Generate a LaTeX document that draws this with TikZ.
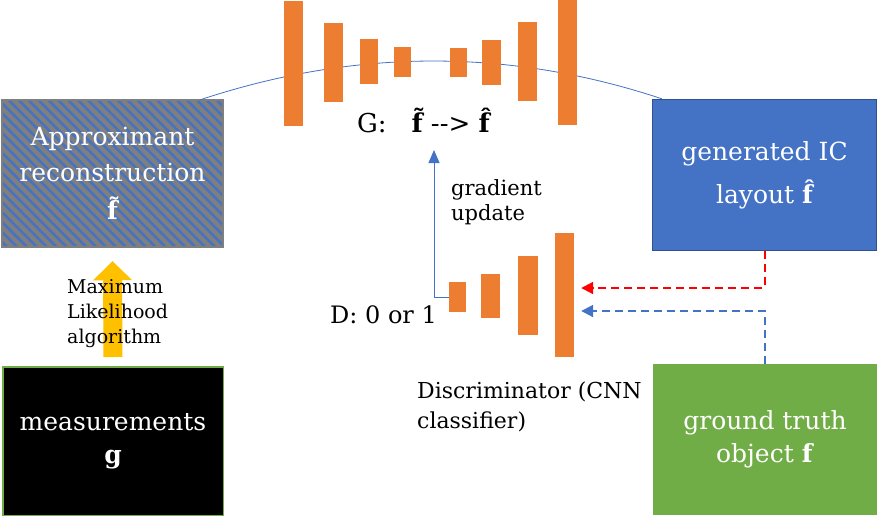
\documentclass[tikz,border=0pt]{standalone}
\usepackage{fontspec}
\setmainfont{DejaVu Serif}
\usepackage{xcolor}
\usepackage{tikz}
\usetikzlibrary{arrows.meta,positioning,calc,patterns.meta}

\definecolor{barorange}{HTML}{ED7D31}
\definecolor{accblue}{HTML}{4472C4}
\definecolor{darkblue}{HTML}{2F528F}
\definecolor{accgreen}{HTML}{70AD47}
\definecolor{boxgray}{HTML}{7F7F7F}
\definecolor{mlyellow}{HTML}{FFC000}

\newcommand{\fsz}[2]{\fontsize{#1}{#2}\selectfont}

\begin{document}
\begin{tikzpicture}[
  x=1pt, y=-1pt,
  box/.style={minimum width=222, minimum height=150, align=center, text=white, inner sep=0pt, font=\fsz{25}{36}},
  bar/.style={fill=barorange, inner sep=0pt},
  lbl/.style={inner sep=0pt, align=left, anchor=base west},
  dasharr/.style={-{Triangle[width=12pt,length=12pt]}, line width=2pt, dash pattern=on 8pt off 5pt},
  gradarr/.style={-{Triangle[width=11pt,length=13pt]}, accblue, line width=1pt},
  mlarr/.style={-{Triangle[width=39pt,length=19pt,line width=0pt]}, mlyellow, line width=19pt},
]
\useasboundingbox (0,0) rectangle (878,517);

%------------------- Left column: reconstruction and measurements -------------------
\node (approx) [box, minimum width=221, minimum height=147, fill=boxgray,
  postaction={pattern={Lines[angle=-45,distance=7pt,line width=2.5pt]}, pattern color=accblue},
  postaction={draw=boxgray, line width=1.2pt}]
  at (112.5,173.5) {Approximant\\reconstruction\\[2pt]\textbf{\~{f}}};
\node (meas) [box, fill=black, draw=accgreen, line width=1.5pt, minimum width=220.5, minimum height=148.5] at (113,441) {\raisebox{-3pt}{measurements}\\\textbf{g}};

% generator G (encoder / decoder bars) with its arc
\node (gen) [box, fill=accblue, draw=darkblue, line width=1.5pt, minimum width=224, minimum height=151] at (764.5,175) {generated IC\\[7pt]layout \textbf{\^{f}}};
\draw[accblue, line width=0.8pt] ([xshift=-23pt]approx.north east) .. controls +(154,-51) and +(-154,-51) .. ([xshift=10pt]gen.north west);

\node (gbar1) [bar, minimum width=19, minimum height=125] at (293.5,63.5) {};
\node (gbar2) [bar, minimum width=19, minimum height=79] at (333.5,62.5) {};
\node (gbar3) [bar, minimum width=18, minimum height=45] at (369,61.5) {};
\node (gbar4) [bar, minimum width=17, minimum height=30] at (402.5,62) {};
\node (gbar5) [bar, minimum width=17, minimum height=29] at (458.5,62.5) {};
\node (gbar6) [bar, minimum width=19, minimum height=45] at (491.5,62.5) {};
\node (gbar7) [bar, minimum width=19, minimum height=79] at (527.5,61.5) {};
\node (gbar8) [bar, minimum width=19, minimum height=125] at (567.5,62.5) {};
\node (glabel) [lbl, font=\fsz{26}{30}] at (357,132) {G:\ \ \ \textbf{\~{f}}\ {-}{-}>\ \textbf{\^{f}}};

%------------------- Discriminator D -------------------
\node (dbar1) [bar, minimum width=17, minimum height=30] at (457.5,297) {};
\node (dbar2) [bar, minimum width=19, minimum height=44] at (490.5,296) {};
\node (dbar3) [bar, minimum width=20, minimum height=79] at (528,295.5) {};
\node (dbar4) [bar, minimum width=19, minimum height=124] at (564.5,295) {};
\node (dtxt) [lbl, font=\fsz{24}{30}] at (330,323) {D: 0 or 1};
\node (disctxt) [lbl, font=\fsz{22}{30}] at (417,428) {Discriminator (CNN\\classifier)};
\node (gradtxt) [lbl, font=\fsz{21}{25}] at (451,220) {gradient\\update};
\coordinate (gtip) at (434,150);

\node (truth) [box, fill=accgreen, minimum width=224, minimum height=151] at (765,439.5) {\raisebox{-3pt}{ground truth}\\object \textbf{f}};

%------------------- Arrows -------------------
\draw[mlarr] ([yshift=9pt]meas.north) -- ([yshift=-14pt]approx.south);           % measurements -> reconstruction
\node (mltxt) [lbl, font=\fsz{19}{25}] at (67,343) {Maximum\\Likelihood\\algorithm};
\draw[gradarr] (dbar1.west) -| (gtip);                                             % D -> G update
\draw[dasharr, red] (gen.south) |- ([xshift=7pt,yshift=7pt]dbar4.east);           % generated -> D
\draw[dasharr, accblue] (truth.north) |- ([xshift=7pt,yshift=-16pt]dbar4.east);   % ground truth -> D

\end{tikzpicture}
\end{document}
